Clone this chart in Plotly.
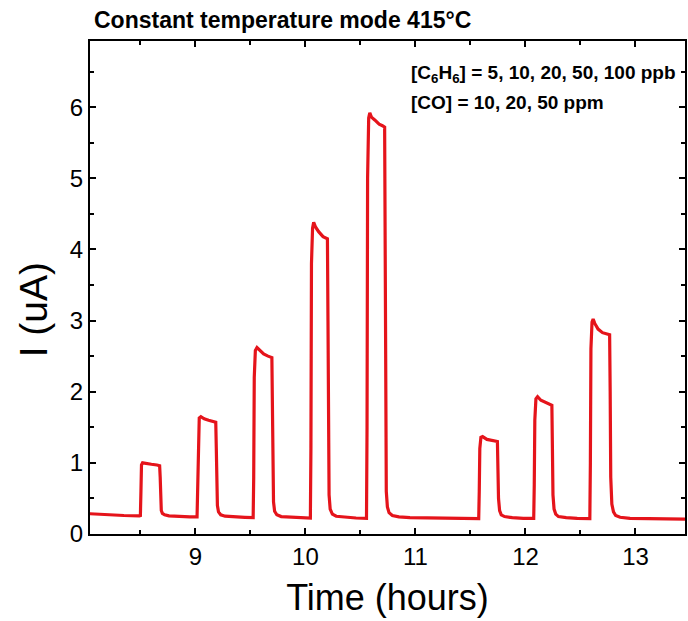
import plotly.graph_objects as go

# Sensor current trace, constant temperature mode (415 °C)
time_h = [
    8.04, 8.2, 8.35, 8.49, 8.50, 8.505, 8.51, 8.52, 8.55, 8.60, 8.65, 8.675, 8.68, 8.685,
    8.69, 8.70, 8.72, 8.76, 8.85, 8.95, 9.015, 9.02, 9.025, 9.035, 9.05, 9.08, 9.12, 9.17,
    9.185, 9.19, 9.195, 9.20, 9.21, 9.23, 9.27, 9.35, 9.45, 9.525, 9.53, 9.535, 9.545,
    9.56, 9.59, 9.62, 9.66, 9.695, 9.70, 9.705, 9.71, 9.72, 9.74, 9.78, 9.88, 9.98,
    10.045, 10.05, 10.055, 10.065, 10.075, 10.09, 10.12, 10.16, 10.20, 10.205, 10.21,
    10.215, 10.225, 10.245, 10.28, 10.36, 10.46, 10.555, 10.56, 10.565, 10.575, 10.585,
    10.60, 10.63, 10.67, 10.70, 10.72, 10.725, 10.73, 10.735, 10.745, 10.76, 10.79,
    10.85, 10.95, 11.1, 11.3, 11.5, 11.575, 11.58, 11.585, 11.595, 11.61, 11.65, 11.70,
    11.745, 11.75, 11.755, 11.765, 11.78, 11.81, 11.88, 11.98, 12.075, 12.08, 12.085,
    12.095, 12.11, 12.14, 12.18, 12.22, 12.24, 12.245, 12.25, 12.26, 12.275, 12.30,
    12.37, 12.47, 12.585, 12.59, 12.595, 12.605, 12.615, 12.63, 12.66, 12.70, 12.74,
    12.765, 12.77, 12.775, 12.785, 12.80, 12.82, 12.86, 12.95, 13.1, 13.3, 13.45,
]
current_ua = [
    0.285, 0.27, 0.26, 0.255, 0.26, 0.60, 0.97, 1.00, 0.99, 0.98, 0.97, 0.96, 0.80, 0.45,
    0.33, 0.29, 0.27, 0.255, 0.245, 0.24, 0.24, 0.60, 1.40, 1.63, 1.65, 1.62, 1.60, 1.58,
    1.57, 1.20, 0.60, 0.40, 0.31, 0.27, 0.25, 0.24, 0.235, 0.23, 0.80, 2.20, 2.58,
    2.62, 2.58, 2.53, 2.50, 2.48, 1.80, 0.80, 0.45, 0.32, 0.27, 0.245, 0.235, 0.23,
    0.225, 1.20, 3.80, 4.30, 4.38, 4.32, 4.25, 4.18, 4.15, 3.00, 1.20,
    0.55, 0.35, 0.28, 0.25, 0.235, 0.225, 0.22, 1.50, 5.00, 5.85, 5.92,
    5.86, 5.82, 5.76, 5.74, 5.72, 4.00, 1.50, 0.60, 0.38, 0.30, 0.26,
    0.24, 0.23, 0.225, 0.22, 0.215, 0.215, 0.60, 1.20, 1.36, 1.37, 1.33, 1.31,
    1.30, 0.90, 0.50, 0.33, 0.27, 0.245, 0.23, 0.22, 0.22, 0.70, 1.60,
    1.90, 1.93, 1.88, 1.85, 1.83, 1.81, 1.20, 0.55, 0.35, 0.28, 0.245,
    0.23, 0.22, 0.215, 1.00, 2.60, 2.98, 3.02, 2.96, 2.88, 2.83, 2.81,
    2.80, 2.00, 0.80, 0.42, 0.31, 0.26, 0.235, 0.22, 0.215, 0.21, 0.21,
]

x_range = [8.042, 13.45]
y_range = [0, 6.93]
x_ticks = [9, 10, 11, 12, 13]
y_ticks = [0, 1, 2, 3, 4, 5, 6]

title_text = "Constant temperature mode 415°C"
gas_lines = [
    "[C<sub>6</sub>H<sub>6</sub>] = 5, 10, 20, 50, 100 ppb",
    "[CO] = 10, 20, 50 ppm",
]
x_label = "Time (hours)"
y_label = "I (uA)"

FONT = "Liberation Sans, Arial, sans-serif"

fig = go.Figure()
fig.add_trace(go.Scatter(
    x=time_h, y=current_ua, mode="lines",
    line=dict(color="#e5141b", width=3.2),
    showlegend=False, hoverinfo="skip",
))

axis_common = dict(
    showline=True, linecolor="black", linewidth=2, mirror="ticks",
    ticks="inside", ticklen=6, tickwidth=1.5, tickcolor="black",
    showgrid=False, zeroline=False,
    tickfont=dict(family=FONT, size=24, color="black"),
)

fig.update_xaxes(
    range=x_range, tickvals=x_ticks,
    minor=dict(ticks="inside", dtick=0.5, tick0=8.5, ticklen=4, tickwidth=1.5, tickcolor="black"),
    title=dict(text=x_label, font=dict(family=FONT, size=36, color="black"), standoff=16),
    **axis_common,
)
fig.update_yaxes(
    range=y_range, tickvals=y_ticks,
    minor=dict(ticks="inside", dtick=0.5, tick0=0.5, ticklen=4, tickwidth=1.5, tickcolor="black"),
    **axis_common,
)

# vertical axis label, placed as a rotated annotation
fig.add_annotation(
    text=y_label, textangle=-90, xref="paper", yref="paper",
    x=-0.0955, y=0.454, xanchor="center", yanchor="middle", showarrow=False,
    font=dict(family=FONT, size=39, color="black"),
)

fig.add_annotation(
    text="<b>" + title_text + "</b>", xref="paper", yref="paper",
    x=0.003, y=1.042, xanchor="left", yanchor="middle", showarrow=False,
    font=dict(family=FONT, size=23, color="black"),
)
for txt, yy in zip(gas_lines, [0.933, 0.876]):
    fig.add_annotation(
        text="<b>" + txt + "</b>", xref="paper", yref="paper",
        x=0.536, y=yy, xanchor="left", yanchor="middle", showarrow=False,
        font=dict(family=FONT, size=19, color="black"),
    )

fig.update_layout(
    width=688, height=621,
    margin=dict(l=90, r=1, t=41, b=87),
    plot_bgcolor="white", paper_bgcolor="white",
)

fig.write_html("out.html")
